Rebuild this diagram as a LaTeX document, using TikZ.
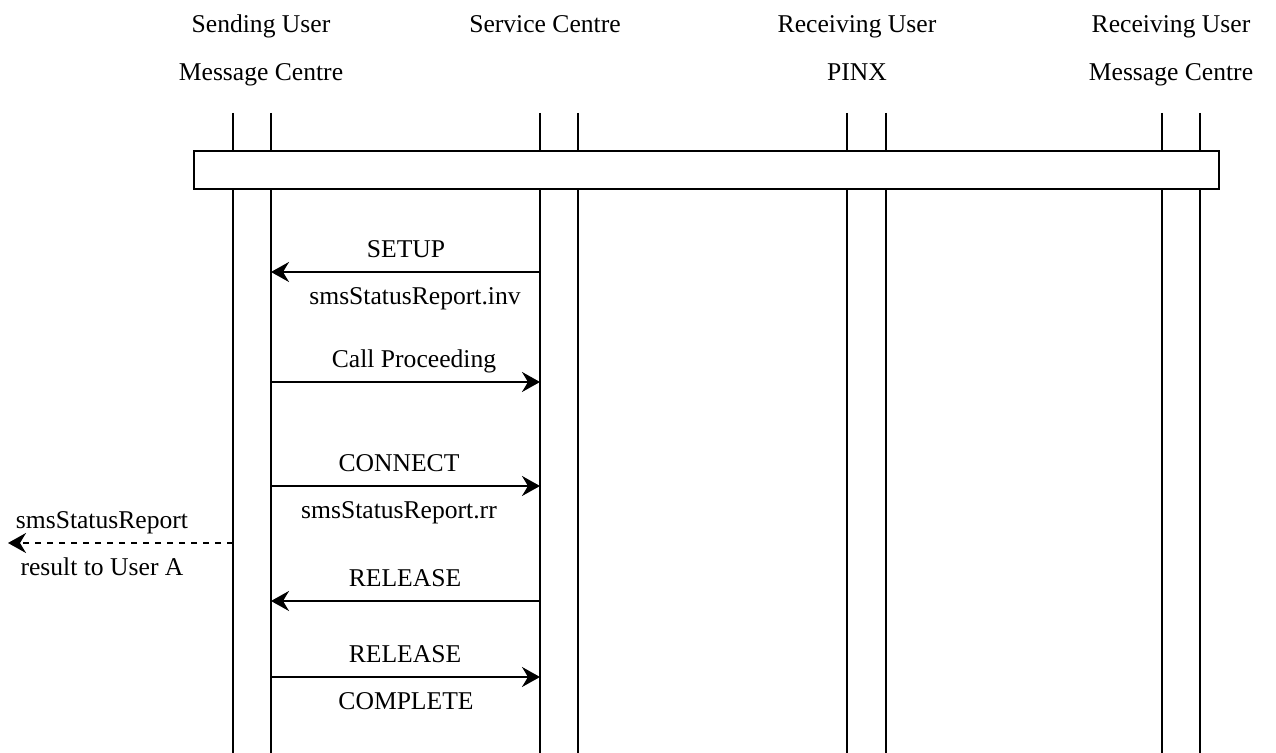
\documentclass[tikz,border=0pt]{standalone}
\usepackage{fontspec}
\setmainfont{Liberation Serif}
\usetikzlibrary{arrows.meta,positioning}
\tikzstyle{life} = [line width=1.1pt]
\tikzstyle{msg} = [line width=1.1pt,-{Stealth[length=9pt,width=10pt,inset=3pt]}]
\tikzstyle{lbl} = [font=\fontsize{12.8}{15}\selectfont,inner sep=0pt,text height=8.6pt,text depth=0pt]

\begin{document}
\begin{tikzpicture}[x=0.5pt,y=-0.5pt]
\useasboundingbox (0,0) rectangle (1276,753);

% Entity headings
\node[lbl] (sndA) at (261,24) {Sending User};
\node[lbl] (sndB) at (261,72) {Message Centre};
\node[lbl] (svc) at (545,24) {Service Centre};
\node[lbl] (pinxA) at (857,24) {Receiving User};
\node[lbl] (pinxB) at (857,72) {PINX};
\node[lbl] (rcvA) at (1171,24) {Receiving User};
\node[lbl] (rcvB) at (1171,72) {Message Centre};

% Lifelines
\foreach \x in {233,271,540,578,847,886,1162,1200}
  \draw[life] (\x,113) -- (\x,753);

% Bar across all entities
\node[draw, life, fill=white, minimum width=512.5pt, minimum height=19pt, inner sep=0pt] (bar) at (706.5,170) {};

% Points on the lifelines
\coordinate (u1) at (271,272);  \coordinate (c1) at (540,272);
\coordinate (u2) at (271,382);  \coordinate (c2) at (540,382);
\coordinate (u3) at (271,486);  \coordinate (c3) at (540,486);
\coordinate (u4) at (271,601);  \coordinate (c4) at (540,601);
\coordinate (u5) at (271,677);  \coordinate (c5) at (540,677);
\coordinate (sl) at (233,543);  \coordinate (out) at (8,543);

% Messages
\draw[msg] (c1) -- (u1);
\node[lbl] (setup) at (406,249) {SETUP};
\node[lbl] (setupinv) at (415,296) {smsStatusReport.inv};

\draw[msg] (u2) -- (c2);
\node[lbl] (callproc) at (414,359) {Call Proceeding};

\draw[msg] (u3) -- (c3);
\node[lbl] (conn) at (399,463) {CONNECT};
\node[lbl] (connrr) at (399,510) {smsStatusReport.rr};

\draw[msg, dashed] (sl) -- (out);
\node[lbl] (resA) at (102,520) {smsStatusReport};
\node[lbl] (resB) at (102,567) {result to User A};

\draw[msg] (c4) -- (u4);
\node[lbl] (rel) at (405,578) {RELEASE};

\draw[msg] (u5) -- (c5);
\node[lbl] (relA) at (405,654) {RELEASE};
\node[lbl] (relB) at (406,701) {COMPLETE};
\end{tikzpicture}
\end{document}
